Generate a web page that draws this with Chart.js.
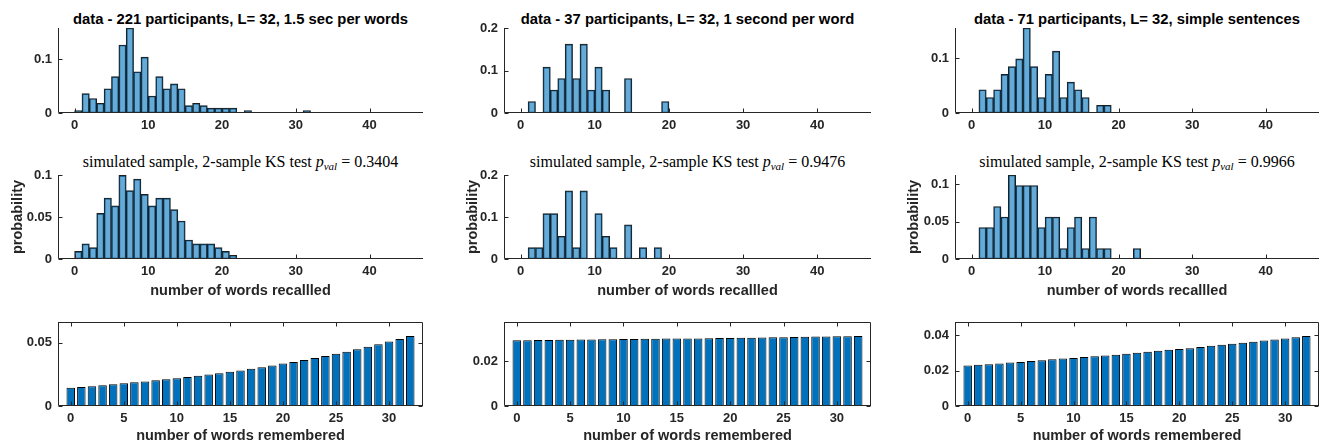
<!DOCTYPE html>
<html>
<head>
<meta charset="utf-8">
<title>words recalled</title>
<script src="https://cdn.jsdelivr.net/npm/chart.js@4.4.1/dist/chart.umd.min.js"></script>
<style>
body { margin: 0; background: #fff; }
#fig { position: relative; width: 1324px; height: 446px; overflow: hidden; background: #fff; }
#fig canvas { position: absolute; }
.ttl { position: absolute; transform: translateX(-50%); white-space: nowrap; color: #000; }
.ttl-data { font: bold 14.8px "Liberation Sans", Arial, Helvetica, sans-serif; line-height: 14.8px; top: 12px; }
.ttl-sim { font: 16px "Liberation Serif", "Times New Roman", serif; line-height: 16px; top: 154px; }
.ttl-sim sub { font-size: 11px; vertical-align: -3px; line-height: 0; }
</style>
</head>
<body>
<div id="fig"></div>
<script>
// titles
const dataTitles = [
	'data - 221 participants, L= 32, 1.5 sec per words',
	'data - 37 participants, L= 32, 1 second per word',
	'data - 71 participants, L= 32, simple sentences'
];
const simPvals = ['0.3404', '0.9476', '0.9966'];
const recalledLabel = 'number of words recallled';
const rememberedLabel = 'number of words remembered';
const probLabel = 'probability';

// histograms, bin k covers [k, k+1)
const data221 = [0.0045, 0.0362, 0.0271, 0.0181, 0.0452, 0.0679, 0.1267, 0.1584, 0.0769, 0.1041,
	0.0317, 0.0679, 0.0452, 0.0543, 0.0452, 0.0136, 0.0181, 0.0136, 0.0090, 0.0090,
	0.0090, 0.0090, 0, 0.0045, 0, 0, 0, 0, 0, 0, 0, 0.0045];
const data37 = [0, 0.0270, 0, 0.1081, 0.0541, 0.0811, 0.1622, 0.0811, 0.1622, 0.0541,
	0.1081, 0.0541, 0, 0, 0.0811, 0, 0, 0, 0, 0.0270];
const data71 = [0, 0.0423, 0.0282, 0.0423, 0.0704, 0.0845, 0.0986, 0.1549, 0.0845, 0.0282,
	0.0704, 0.1127, 0.0282, 0.0563, 0.0423, 0.0282, 0, 0.0141, 0.0141];

const sim221 = [0.0090, 0.0181, 0.0136, 0.0543, 0.0724, 0.0633, 0.0995, 0.0814, 0.0950, 0.0769,
	0.0633, 0.0724, 0.0724, 0.0588, 0.0452, 0.0226, 0.0181, 0.0181, 0.0181, 0.0136,
	0.0090, 0.0045];
const sim37 = [0, 0.0270, 0.0270, 0.1081, 0.1081, 0.0541, 0.1622, 0.0270, 0.1622, 0,
	0.1081, 0.0541, 0.0270, 0, 0.0811, 0, 0.0270, 0, 0.0270];
const sim71 = [0, 0.0423, 0.0423, 0.0704, 0.0563, 0.1127, 0.0986, 0.0986, 0.0986, 0.0423,
	0.0563, 0.0563, 0.0141, 0.0423, 0.0563, 0.0141, 0.0563, 0.0141, 0.0141, 0,
	0, 0, 0.0141];

// bottom row
const wordsRemembered = [0, 1, 2, 3, 4, 5, 6, 7, 8, 9, 10, 11, 12, 13, 14, 15, 16,
	17, 18, 19, 20, 21, 22, 23, 24, 25, 26, 27, 28, 29, 30, 31, 32];
const prior221 = [0.0143, 0.0150, 0.0155, 0.0163, 0.0171, 0.0179, 0.0187, 0.0194, 0.0202, 0.0210,
	0.0218, 0.0228, 0.0238, 0.0249, 0.0259, 0.0269, 0.0280, 0.0293, 0.0306, 0.0319,
	0.0334, 0.0347, 0.0363, 0.0378, 0.0394, 0.0412, 0.0428, 0.0448, 0.0466, 0.0487,
	0.0508, 0.0529, 0.0552];
const prior37 = [0.0293, 0.0293, 0.0294, 0.0294, 0.0295, 0.0295, 0.0296, 0.0296, 0.0297, 0.0297,
	0.0298, 0.0298, 0.0299, 0.0299, 0.0300, 0.0300, 0.0301, 0.0301, 0.0302, 0.0303,
	0.0303, 0.0304, 0.0304, 0.0305, 0.0306, 0.0306, 0.0307, 0.0308, 0.0309, 0.0309,
	0.0310, 0.0311, 0.0312];
const prior71 = [0.0229, 0.0233, 0.0236, 0.0240, 0.0246, 0.0249, 0.0255, 0.0259, 0.0264, 0.0268,
	0.0272, 0.0277, 0.0281, 0.0285, 0.0290, 0.0296, 0.0301, 0.0307, 0.0313, 0.0318,
	0.0322, 0.0327, 0.0333, 0.0341, 0.0346, 0.0352, 0.0357, 0.0363, 0.0370, 0.0376,
	0.0381, 0.0389, 0.0396];

const histXTicks = [0, 10, 20, 30, 40];
const wordXTicks = [0, 5, 10, 15, 20, 25, 30];

// layout (px)
const colLeft = [58, 504, 955];
const colRight = [423, 871, 1319];
const rowTop = [28, 175, 322];
const rowBottom = [113, 259, 406];
const xAxisH = [22, 41, 39];
const yTitleX = [18, 473, 914];

const axisColor = 'rgb(38,38,38)';
const tickFont = { family: '"Liberation Sans", Arial, sans-serif', size: 13, weight: 'bold' };
const labelFont = { family: '"Liberation Sans", Arial, sans-serif', size: 14.5, weight: 'bold' };

const panels = [
	{ row: 0, col: 0, kind: 'hist', values: data221, yMax: 0.1584, yTicks: [0, 0.1] },
	{ row: 0, col: 1, kind: 'hist', values: data37, yMax: 0.2, yTicks: [0, 0.1, 0.2] },
	{ row: 0, col: 2, kind: 'hist', values: data71, yMax: 0.1549, yTicks: [0, 0.1] },
	{ row: 1, col: 0, kind: 'hist', values: sim221, yMax: 0.1, yTicks: [0, 0.05, 0.1] },
	{ row: 1, col: 1, kind: 'hist', values: sim37, yMax: 0.2, yTicks: [0, 0.1, 0.2] },
	{ row: 1, col: 2, kind: 'hist', values: sim71, yMax: 0.1127, yTicks: [0, 0.05, 0.1] },
	{ row: 2, col: 0, kind: 'bar', values: prior221, yMax: 0.0662, yTicks: [0, 0.05] },
	{ row: 2, col: 1, kind: 'bar', values: prior37, yMax: 0.0374, yTicks: [0, 0.02] },
	{ row: 2, col: 2, kind: 'bar', values: prior71, yMax: 0.0475, yTicks: [0, 0.02, 0.04] }
];

// matlab style axes: inward ticks, optional box
const matlabAxes = {
	id: 'matlabAxes',
	afterDatasetsDraw(chart, args, opts) {
		const { ctx, chartArea } = chart;
		const xs = chart.scales.x, ys = chart.scales.y;
		const L = chartArea.left + 0.5, R = chartArea.right - 0.5;
		const T = chartArea.top + 0.5, B = chartArea.bottom - 0.5;
		const t = 4;
		ctx.save();
		ctx.strokeStyle = axisColor;
		ctx.lineWidth = 1;
		ctx.beginPath();
		ctx.moveTo(L, T - 0.5);
		ctx.lineTo(L, B);
		ctx.lineTo(R + 0.5, B);
		if (opts.box) {
			ctx.moveTo(L, T);
			ctx.lineTo(R, T);
			ctx.lineTo(R, B);
		}
		for (const tk of ys.ticks) {
			const y = Math.round(ys.getPixelForValue(tk.value)) + 0.5;
			ctx.moveTo(L, y);
			ctx.lineTo(L + t, y);
			if (opts.box) {
				ctx.moveTo(R, y);
				ctx.lineTo(R - t, y);
			}
		}
		for (const tk of xs.ticks) {
			const x = Math.round(xs.getPixelForValue(tk.value)) + 0.5;
			ctx.moveTo(x, B);
			ctx.lineTo(x, B - t);
			if (opts.box) {
				ctx.moveTo(x, T);
				ctx.lineTo(x, T + t);
			}
		}
		ctx.stroke();
		ctx.restore();
	}
};

const fig = document.getElementById('fig');

function addTitles() {
	for (let c = 0; c < 3; c++) {
		const mid = (colLeft[c] + colRight[c]) / 2;
		const d = document.createElement('div');
		d.className = 'ttl ttl-data';
		d.style.left = mid + 'px';
		d.textContent = dataTitles[c];
		fig.appendChild(d);

		const s = document.createElement('div');
		s.className = 'ttl ttl-sim';
		s.style.left = mid + 'px';
		s.innerHTML = 'simulated sample, 2-sample KS test <i>p<sub>val</sub></i>&nbsp;=&nbsp;' + simPvals[c];
		fig.appendChild(s);
	}
}

function makePanel(p) {
	const isHist = p.kind === 'hist';
	const padTop = 16, padRight = 4;
	const plotL = colLeft[p.col], plotR = colRight[p.col];
	const plotT = rowTop[p.row], plotB = rowBottom[p.row];
	const canvasL = p.row === 1 ? Math.round(yTitleX[p.col] - 8.7) : plotL - 45;
	const yW = plotL - canvasL;
	const xH = xAxisH[p.row];

	const cv = document.createElement('canvas');
	cv.width = plotR - canvasL + padRight;
	cv.height = plotB - plotT + padTop + xH;
	cv.style.left = canvasL + 'px';
	cv.style.top = (plotT - padTop) + 'px';
	fig.appendChild(cv);

	const points = p.values.map((v, i) => isHist ? { x: i + 0.5, y: v } : { x: wordsRemembered[i], y: v });
	const xTicks = isHist ? histXTicks : wordXTicks;

	let xTitle = { display: false };
	if (p.row === 1) xTitle = { display: true, text: recalledLabel, font: labelFont, color: axisColor, padding: 0 };
	if (p.row === 2) xTitle = { display: true, text: rememberedLabel, font: labelFont, color: axisColor, padding: 0 };

	new Chart(cv.getContext('2d'), {
		type: 'bar',
		data: {
			datasets: [{
				data: points,
				backgroundColor: isHist ? 'rgba(0,114,189,0.6)' : 'rgb(0,114,189)',
				borderColor: isHist ? 'rgb(30,30,30)' : 'rgb(0,0,0)',
				borderWidth: 1,
				borderSkipped: false,
				barPercentage: isHist ? 1 : 0.8,
				categoryPercentage: 1
			}]
		},
		options: {
			responsive: false,
			animation: false,
			events: [],
			layout: { padding: { top: padTop, right: padRight, left: 0, bottom: 0 } },
			plugins: {
				legend: { display: false },
				tooltip: { enabled: false },
				matlabAxes: { box: !isHist }
			},
			scales: {
				x: {
					type: 'linear',
					offset: false,
					min: isHist ? -2.25 : -1.2,
					max: isHist ? 47.25 : 33.2,
					grid: { display: false, drawTicks: false },
					border: { display: false },
					ticks: { font: tickFont, color: axisColor, padding: 5, maxRotation: 0 },
					afterBuildTicks: s => { s.ticks = xTicks.map(v => ({ value: v })); },
					afterFit: s => { s.height = xH; },
					title: xTitle
				},
				y: {
					min: 0,
					max: p.yMax,
					grid: { display: false, drawTicks: false },
					border: { display: false },
					ticks: { font: tickFont, color: axisColor, padding: 6, callback: v => String(v) },
					afterBuildTicks: s => { s.ticks = p.yTicks.map(v => ({ value: v })); },
					afterFit: s => { s.width = yW; },
					title: p.row === 1
						? { display: true, text: probLabel, font: labelFont, color: axisColor, padding: 0 }
						: { display: false }
				}
			}
		},
		plugins: [matlabAxes]
	});
}

addTitles();
for (const p of panels) {
	makePanel(p);
}
</script>
</body>
</html>
